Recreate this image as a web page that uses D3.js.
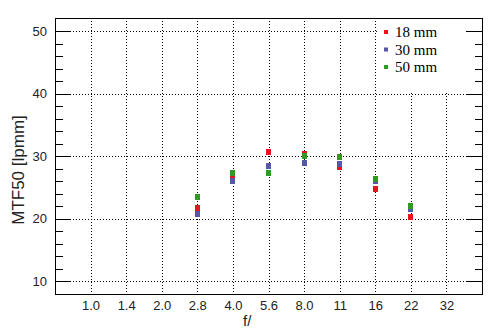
<!DOCTYPE html>
<html>
<head>
<meta charset="utf-8">
<script src="https://cdn.jsdelivr.net/npm/d3@7"></script>
<style>
  body { margin: 0; background: #fff; }
  svg { display: block; }
</style>
</head>
<body>
<script>
// f-stops along the x axis
var fStops = ["1.0", "1.4", "2.0", "2.8", "4.0", "5.6", "8.0", "11", "16", "22", "32"];

// measured f-stops (the lens only goes from 2.8 to 22)
var measured = ["2.8", "4.0", "5.6", "8.0", "11", "16", "22"];

// MTF50 values for each focal length
var mtf18 = [21.8, 27.1, 30.8, 30.5, 28.3, 24.9, 20.3];
var mtf30 = [20.9, 26.2, 28.6, 29.0, 28.8, 26.1, 21.6];
var mtf50 = [23.6, 27.4, 27.4, 30.2, 30.0, 26.5, 22.2];

var yTicks = [10, 20, 30, 40, 50];

var seriesNames = ["18 mm", "30 mm", "50 mm"];
var seriesColors = ["#e8141c", "#5656aa", "#2f9a22"];

var svgWidth = 494;
var svgHeight = 331;

var plot = { left: 55, right: 482, top: 18, bottom: 294 };

var svg = d3.select("body")
  .append("svg")
  .attr("width", svgWidth)
  .attr("height", svgHeight);

// x: one slot per f-stop, one empty slot of padding on each side
var x = d3.scaleLinear()
  .domain([-1, fStops.length])
  .range([plot.left, plot.right]);

var y = d3.scaleLinear()
  .domain([10, 50])
  .range([281.3, 31.3]);

// dotted grid
var grid = svg.append("g")
  .attr("stroke", "#000")
  .attr("stroke-width", 1)
  .attr("stroke-dasharray", "1,2");

grid.selectAll(".hgrid")
  .data(yTicks)
  .enter()
  .append("line")
  .attr("x1", plot.left)
  .attr("x2", plot.right)
  .attr("y1", d => Math.round(y(d)) + 0.5)
  .attr("y2", d => Math.round(y(d)) + 0.5);

grid.selectAll(".vgrid")
  .data(fStops)
  .enter()
  .append("line")
  .attr("x1", (d, i) => Math.round(x(i)) + 0.5)
  .attr("x2", (d, i) => Math.round(x(i)) + 0.5)
  .attr("y1", plot.top)
  .attr("y2", plot.bottom);

// y ticks on both sides, pointing inward
var minorTicks = d3.range(10, 51, 2).filter(v => v % 10 !== 0);
var tickGroup = svg.append("g").attr("stroke", "#000").attr("stroke-width", 1);

function addTicks(values, len, side) {
  tickGroup.selectAll(null)
    .data(values)
    .enter()
    .append("line")
    .attr("x1", side === "left" ? plot.left : plot.right - len)
    .attr("x2", side === "left" ? plot.left + len : plot.right)
    .attr("y1", d => Math.round(y(d)) + 0.5)
    .attr("y2", d => Math.round(y(d)) + 0.5);
}

// data points, drawn red then blue then green
var allSeries = [mtf18, mtf30, mtf50];
var ms = 5;
allSeries.forEach(function(vals, s) {
  svg.append("g").selectAll("rect")
    .data(vals)
    .enter()
    .append("rect")
    .attr("x", (d, i) => Math.round(x(fStops.indexOf(measured[i])) - ms / 2))
    .attr("y", d => Math.round(y(d) - ms / 2))
    .attr("width", ms)
    .attr("height", ms + 1)
    .attr("fill", seriesColors[s]);
});

// legend with white background
var legend = svg.append("g");
legend.append("rect")
  .attr("x", 377)
  .attr("y", plot.top + 1)
  .attr("width", 89)
  .attr("height", 73)
  .attr("fill", "#fff");

seriesNames.forEach(function(name, i) {
  var ly = 32 + i * 17.5;
  legend.append("rect")
    .attr("x", 384)
    .attr("y", ly - 2)
    .attr("width", 4)
    .attr("height", 4)
    .attr("fill", seriesColors[i]);
  legend.append("text")
    .attr("x", 395)
    .attr("y", ly + 5)
    .style("font-family", "'Liberation Serif', 'DejaVu Serif', serif")
    .style("font-size", "15px")
    .style("fill", "#000")
    .text(name);
});

addTicks(yTicks, 16, "left");
addTicks(minorTicks, 8, "left");
addTicks(yTicks, 15, "right");
addTicks(minorTicks, 7, "right");

// frame
svg.append("rect")
  .attr("x", plot.left + 0.5)
  .attr("y", plot.top + 0.5)
  .attr("width", plot.right - plot.left)
  .attr("height", plot.bottom - plot.top)
  .attr("fill", "none")
  .attr("stroke", "#000")
  .attr("stroke-width", 1);

var labelFont = "'Liberation Sans', Arial, sans-serif";

// y tick labels
svg.selectAll(".ylab")
  .data(yTicks)
  .enter()
  .append("text")
  .attr("x", 47)
  .attr("y", d => y(d) + 4.5)
  .attr("text-anchor", "end")
  .style("font-family", labelFont)
  .style("font-size", "13px")
  .style("fill", "#222")
  .text(d => d);

// x tick labels
svg.selectAll(".xlab")
  .data(fStops)
  .enter()
  .append("text")
  .attr("x", (d, i) => x(i) + 0.5)
  .attr("y", 310)
  .attr("text-anchor", "middle")
  .style("font-family", labelFont)
  .style("font-size", "13px")
  .style("fill", "#222")
  .text(d => d);

// axis titles
svg.append("text")
  .attr("x", 243)
  .attr("y", 326)
  .style("font-family", labelFont)
  .style("font-size", "15px")
  .style("fill", "#222")
  .text("f/");

svg.append("text")
  .attr("transform", "translate(24,170) rotate(-90)")
  .attr("text-anchor", "middle")
  .style("font-family", labelFont)
  .style("font-size", "17px")
  .style("fill", "#222")
  .text("MTF50 [lpmm]");
</script>
</body>
</html>
